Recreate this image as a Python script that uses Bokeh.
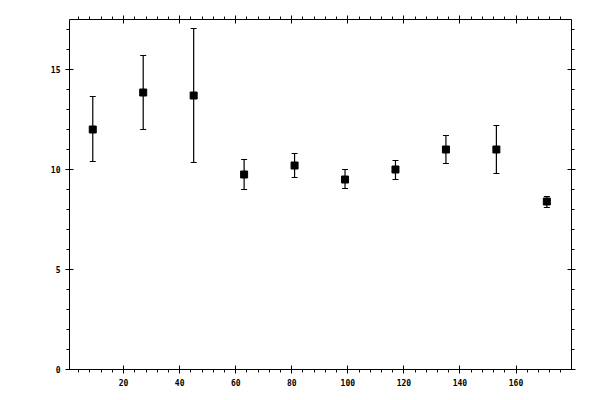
from bokeh.plotting import figure
from bokeh.models import (ColumnDataSource, Whisker, TeeHead, LinearAxis,
                          SingleIntervalTicker, Range1d, CustomJSTickFormatter)
from bokeh.embed import file_html
from bokeh.resources import INLINE

# data
x_vals = [9, 27, 45, 63, 81, 99, 117, 135, 153, 171]
y_vals = [12.0, 13.85, 13.7, 9.75, 10.2, 9.5, 10.0, 11.0, 11.0, 8.4]
y_upper = [13.65, 15.7, 17.05, 10.5, 10.8, 10.0, 10.45, 11.7, 12.2, 8.65]
y_lower = [10.4, 12.0, 10.35, 9.0, 9.6, 9.05, 9.5, 10.3, 9.8, 8.1]

src = ColumnDataSource(dict(x=x_vals, y=y_vals, upper=y_upper, lower=y_lower))

p = figure(width=592, height=392, output_backend="svg", toolbar_location=None,
           x_range=Range1d(0.7, 179.8), y_range=Range1d(0, 17.5),
           x_axis_location=None, y_axis_location=None,
           min_border_left=69, min_border_right=21,
           min_border_top=19, min_border_bottom=23)
p.grid.visible = False
p.outline_line_color = None
p.background_fill_color = "white"
p.border_fill_color = "white"

FONT = "DejaVu Sans Mono"

def make_axis(interval, labels):
    ax = LinearAxis(ticker=SingleIntervalTicker(interval=interval, num_minor_ticks=5))
    ax.axis_line_color = "black"
    ax.axis_line_width = 1
    ax.major_tick_in = 4
    ax.major_tick_out = 4
    ax.minor_tick_in = 0
    ax.minor_tick_out = 3
    ax.major_tick_line_color = "black"
    ax.minor_tick_line_color = "black"
    ax.major_label_text_font = FONT
    ax.major_label_text_font_style = "bold"
    ax.major_label_text_color = "black"
    ax.major_label_text_font_size = "8px"
    ax.major_label_standoff = 5
    if not labels:
        ax.formatter = CustomJSTickFormatter(code="return '';")
    return ax

p.add_layout(make_axis(20, True), "below")
p.add_layout(make_axis(20, False), "above")
p.add_layout(make_axis(5, True), "left")
p.add_layout(make_axis(5, False), "right")

w = Whisker(source=src, base="x", upper="upper", lower="lower",
            line_color="black", line_width=1.2,
            upper_head=TeeHead(size=6, line_color="black", line_width=1.2),
            lower_head=TeeHead(size=6, line_color="black", line_width=1.2))
p.add_layout(w)

p.scatter("x", "y", source=src, marker="square", size=7,
          fill_color="black", line_color="black")

open("out.html", "w").write(file_html(p, INLINE))
